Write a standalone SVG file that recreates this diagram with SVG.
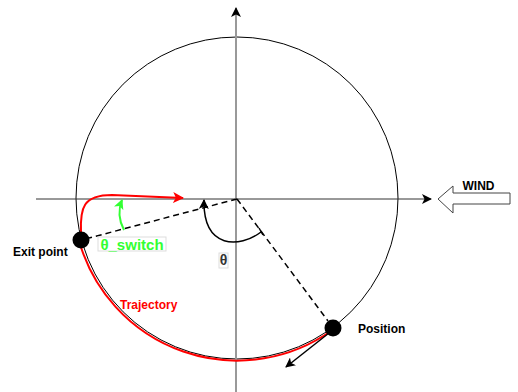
<svg xmlns="http://www.w3.org/2000/svg" width="518" height="392" viewBox="0 0 518 392">
<defs>
<style>
.lbl{font-family:"Liberation Sans",Arial,sans-serif;font-weight:bold;font-size:12px;}
.dash{stroke:#000;stroke-width:1.5;stroke-dasharray:6 4;fill:none;}
</style>
<marker id="ab" viewBox="0 0 10 10" refX="9" refY="5" markerWidth="10" markerHeight="10" markerUnits="userSpaceOnUse" orient="auto"><path d="M0,0 L10,5 L0,10 L2.5,5 Z" fill="#000"/></marker>
<marker id="ar" viewBox="0 0 10 10" refX="9" refY="5" markerWidth="11" markerHeight="11" markerUnits="userSpaceOnUse" orient="auto"><path d="M0,0 L10,5 L0,10 L2.5,5 Z" fill="#f00"/></marker>
<marker id="ag" viewBox="0 0 10 10" refX="9" refY="5" markerWidth="10" markerHeight="10" markerUnits="userSpaceOnUse" orient="auto"><path d="M0,0 L10,5 L0,10 L2.5,5 Z" fill="#33ff33"/></marker>
</defs>
<rect width="518" height="392" fill="#fff"/>
<g id="circle"><circle cx="237" cy="198" r="161" fill="none" stroke="#000" stroke-width="1"/></g>
<g id="connectors">
<line x1="36" y1="199" x2="431" y2="199" stroke="#333" stroke-width="1" marker-end="url(#ab)"/>
<line x1="236" y1="392" x2="236" y2="8" stroke="#999" stroke-width="2" marker-end="url(#ab)"/>
<line class="dash" x1="237" y1="199" x2="89" y2="238"/>
<line class="dash" x1="237" y1="199" x2="328" y2="321"/>
<path d="M80 244 A164 164 0 0 0 331 331" fill="none" stroke="#f00" stroke-width="2"/>
<path d="M81 232 C80 208 83 195 112 195 L183 198" fill="none" stroke="#f00" stroke-width="2" marker-end="url(#ar)"/>
<path d="M124 230 Q116 215 122 200" fill="none" stroke="#33ff33" stroke-width="2" marker-end="url(#ag)"/>
<path d="M261 232 C240 248 203 250 204 200" fill="none" stroke="#000" stroke-width="1.5" marker-end="url(#ab)"/>
<line x1="259" y1="228" x2="263" y2="235" stroke="#000" stroke-width="1.5"/>
<line x1="329" y1="333" x2="286" y2="367" stroke="#000" stroke-width="1.5" marker-end="url(#ab)"/>
</g>
<g id="exit-point"><circle cx="81" cy="240" r="8.5" fill="#000"/><text class="lbl" x="13" y="256">Exit point</text></g>
<g id="position"><circle cx="333" cy="328" r="8.5" fill="#000"/><text class="lbl" x="358" y="333">Position</text></g>
<g id="trajectory-label"><text class="lbl" x="120" y="309" fill="#f00">Trajectory</text></g>
<g id="theta-switch"><rect x="98" y="237" width="68" height="14" fill="#fff" stroke="#ddd" stroke-width="1"/><text class="lbl" x="132" y="249.5" text-anchor="middle" font-size="15" fill="#33ff33" style="font-size:15px">θ_switch</text></g>
<g id="theta"><rect x="219" y="253" width="9" height="15" fill="#fff" stroke="#ddd" stroke-width="1"/><text class="lbl" x="223.5" y="265" text-anchor="middle" fill="#333" style="font-size:14px">θ</text></g>
<g id="wind"><polygon points="438,199 453,186 453,193 510,193 510,204 453,204 453,213" fill="#fff" stroke="#444" stroke-width="1"/><text class="lbl" x="478.5" y="190" text-anchor="middle">WIND</text></g>
</svg>
